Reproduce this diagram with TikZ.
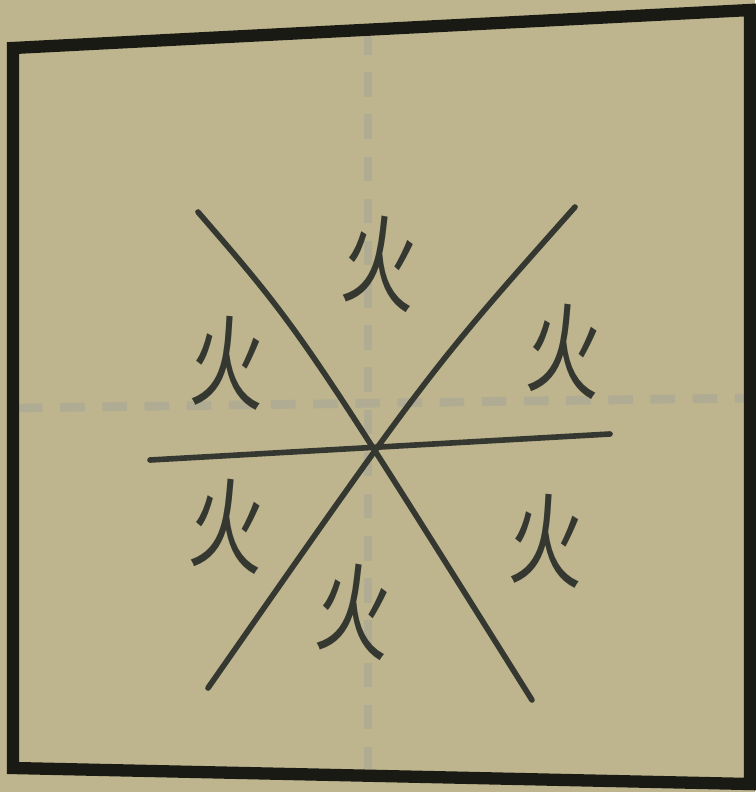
\documentclass[tikz,border=0pt]{standalone}
\usepackage{fontspec}
\newfontfamily\cjk{Noto Sans CJK SC}
\usepackage{tikz}
\usetikzlibrary{positioning}

\definecolor{paper}{RGB}{190,181,142}
\definecolor{ink}{RGB}{52,56,48}
\definecolor{frame}{RGB}{26,26,20}
\definecolor{guide}{RGB}{176,172,148}

\tikzset{
  fire/.style={font=\cjk\fontsize{50}{50}\selectfont, text=ink, inner sep=0pt, xscale=0.85, yscale=1.15},
  guideline/.style={guide, line width=5pt, dash pattern=on 14pt off 10pt},
  stroke/.style={ink, line width=3.2pt, line cap=round}
}

\begin{document}
\begin{tikzpicture}[x=0.02cm, y=-0.02cm]
\useasboundingbox[fill=paper] (0,0) rectangle (755,792);

%% dashed guides
\draw[guideline] (368,30) -- (368,775);
\draw[guideline] (18,408) -- (748,398);

%% frame
\coordinate (tl) at (13,48);
\coordinate (tr) at (750,10);
\coordinate (br) at (750,784);
\coordinate (bl) at (13,768);
\draw[frame, line width=7pt, line join=miter] (tl) -- (tr) -- (br) -- (bl) -- cycle;

%% the three lines
\coordinate (a1) at (198,212);
\coordinate (a2) at (532,700);
\coordinate (b1) at (575,207);
\coordinate (b2) at (208,688);
\coordinate (c1) at (150,460);
\coordinate (c2) at (610,434);
\draw[stroke] (a1) .. controls (300,330) .. (a2);
\draw[stroke] (b1) .. controls (430,370) .. (b2);
\draw[stroke] (c1) -- (c2);

%% the six marks
\path (380,262) node[fire, rotate=-8] (top) {火};
\path (565,350) node[fire, rotate=-6] (upright) {火};
\path (228,362) node[fire, rotate=-4] (upleft) {火};
\path (228,525) node[fire, rotate=-6] (lowleft) {火};
\path (354,610) node[fire, rotate=-8] (bottom) {火};
\path (547,540) node[fire, rotate=-4] (lowright) {火};
\end{tikzpicture}
\end{document}
